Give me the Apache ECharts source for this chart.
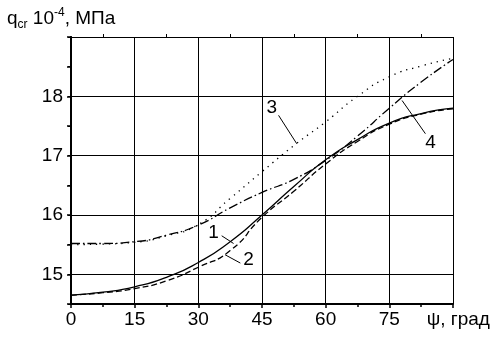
<!DOCTYPE html>
<html>
<head>
<meta charset="utf-8">
<script src="https://cdn.jsdelivr.net/npm/echarts@6/dist/echarts.min.js"></script>
<style>
  html, body { margin: 0; padding: 0; background: #fff; }
  #chart { width: 495px; height: 340px; }
</style>
</head>
<body>
<div id="chart"></div>
<script>
const psi = [0, 7.5, 15, 22.5, 30, 37.5, 45, 52.5, 60, 67.5, 75, 82.5, 90];
const curve1 = [14.65, 14.7, 14.79, 14.95, 15.2, 15.55, 16.0, 16.48, 16.93, 17.27, 17.55, 17.71, 17.8];
const curve2 = [14.65, 14.69, 14.76, 14.89, 15.12, 15.4, 15.96, 16.4, 16.86, 17.24, 17.53, 17.7, 17.79];
const curve3 = [15.5, 15.51, 15.54, 15.65, 15.84, 16.28, 16.73, 17.17, 17.57, 18.0, 18.33, 18.51, 18.64];
const curve4 = [15.52, 15.52, 15.55, 15.66, 15.83, 16.12, 16.38, 16.6, 16.92, 17.33, 17.8, 18.24, 18.62];
const xTicks = [0, 15, 30, 45, 60, 75];
const yTicks = [15, 16, 17, 18];

// callouts: [label, text pos, leader start, leader end] in data units
const callouts = [
    ['1', [33.6, 15.7], [35.5, 15.65], [38.3, 15.52]],
    ['2', [41.8, 15.24], [36.3, 15.33], [39.9, 15.19]],
    ['3', [47.3, 17.8], [48.9, 17.68], [53.2, 17.2]],
    ['4', [84.7, 17.22], [78.0, 17.93], [83.5, 17.37]]
];

const chart = echarts.init(document.getElementById('chart'));

const font = 'Liberation Sans, Arial, sans-serif';

function series(name, values, type, idx) {
    const c = callouts[idx];
    const lines = [[{ coord: c[2] }, { coord: c[3] }]];
    if (idx === 0) {
        // horizontal grid lines at the labelled values
        yTicks.forEach(v => lines.push({ yAxis: v }));
    }
    return {
        name: name,
        type: 'line',
        data: psi.map((x, i) => [x, values[i]]),
        smooth: 0.6,
        symbol: 'none',
        lineStyle: { color: '#000', width: 1.3, type: type },
        z: 5,
        markLine: {
            silent: true,
            symbol: 'none',
            animation: false,
            lineStyle: { color: '#000', width: 1, type: 'solid' },
            label: { show: false },
            emphasis: { disabled: true },
            data: lines
        },
        markPoint: {
            silent: true,
            symbol: 'circle',
            symbolSize: 1,
            itemStyle: { color: 'rgba(0,0,0,0)' },
            label: {
                show: true, position: 'inside', formatter: c[0],
                color: '#000', fontSize: 19, fontFamily: font
            },
            data: [{ coord: c[1] }]
        }
    };
}

const option = {
    animation: false,
    backgroundColor: '#fff',
    title: {
        left: 2,
        top: 2,
        text: '{a|q}{sub|cr}{a| 10}{sup|-4}{a|, МПа}',
        textStyle: {
            rich: {
                a: { fontSize: 19, fontFamily: font, color: '#000', fontWeight: 'normal' },
                sub: { fontSize: 12, fontFamily: font, color: '#000', fontWeight: 'normal', padding: [12, 0, 0, 0] },
                sup: { fontSize: 12, fontFamily: font, color: '#000', fontWeight: 'normal', padding: [0, 0, 12, 0] }
            }
        }
    },
    grid: { left: 71, right: 42, top: 37, bottom: 36 },
    xAxis: [
        {
            type: 'value',
            min: 0,
            max: 90,
            interval: 15,
            axisLine: { show: true, onZero: false, lineStyle: { color: '#000', width: 2 } },
            axisTick: { show: true, length: 4, lineStyle: { color: '#000', width: 1.5 } },
            minorTick: { show: true, splitNumber: 2, length: 3, lineStyle: { color: '#000', width: 1.5 } },
            axisLabel: {
                color: '#000', fontSize: 19, fontFamily: font, margin: 6,
                formatter: v => v === 90 ? '  ψ, град' : (xTicks.includes(v) ? String(v) : '')
            },
            splitLine: { show: true, lineStyle: { color: '#000', width: 1 } }
        },
        {
            type: 'value',
            position: 'top',
            min: 0,
            max: 90,
            interval: 15,
            axisLine: { show: true, lineStyle: { color: '#000', width: 1 } },
            axisTick: { show: false },
            minorTick: { show: true, splitNumber: 2, length: 3, lineStyle: { color: '#000' } },
            axisLabel: { show: false },
            splitLine: { show: false }
        }
    ],
    yAxis: [
        {
            type: 'value',
            min: 14.5,
            max: 19,
            interval: 0.5,
            axisLine: { show: true, onZero: false, lineStyle: { color: '#000', width: 2 } },
            axisTick: { show: true, length: 4, lineStyle: { color: '#000', width: 1.5 } },
            axisLabel: {
                color: '#000', fontSize: 19, fontFamily: font, margin: 8,
                formatter: v => yTicks.includes(v) ? String(v) : ''
            },
            splitLine: { show: false }
        },
        {
            type: 'value',
            position: 'right',
            min: 14.5,
            max: 19,
            interval: 0.5,
            axisLine: { show: true, lineStyle: { color: '#000', width: 2 } },
            axisTick: { show: true, inside: true, length: 3, lineStyle: { color: '#000' } },
            axisLabel: { show: false },
            splitLine: { show: false }
        }
    ],
    series: [
        series('1', curve1, 'solid', 0),
        series('2', curve2, [6, 3], 1),
        series('3', curve3, [1.3, 5], 2),
        series('4', curve4, [9, 3, 1.5, 3], 3)
    ]
};

chart.setOption(option);
</script>
</body>
</html>
